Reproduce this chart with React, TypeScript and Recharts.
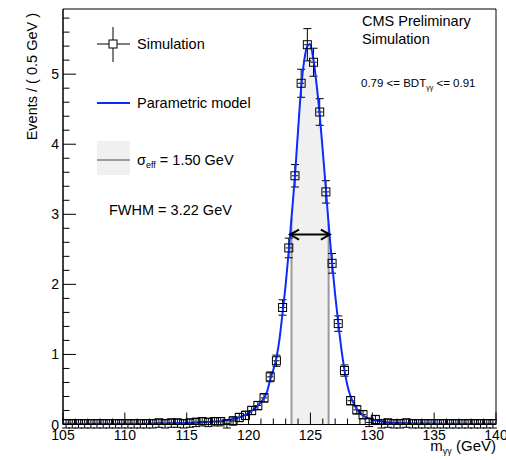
import {
  Area,
  ComposedChart,
  ErrorBar,
  Line,
  ReferenceArea,
  ReferenceLine,
  Scatter,
  XAxis,
  YAxis,
} from 'recharts';

// bin centres (0.5 GeV bins, 105-140 GeV)
const binCenters = [
  105.25, 105.75, 106.25, 106.75, 107.25, 107.75, 108.25, 108.75, 109.25, 109.75,
  110.25, 110.75, 111.25, 111.75, 112.25, 112.75, 113.25, 113.75, 114.25, 114.75,
  115.25, 115.75, 116.25, 116.75, 117.25, 117.75, 118.25, 118.75, 119.25, 119.75,
  120.25, 120.75, 121.25, 121.75, 122.25, 122.75, 123.25, 123.75, 124.25, 124.75,
  125.25, 125.75, 126.25, 126.75, 127.25, 127.75, 128.25, 128.75, 129.25, 129.75,
  130.25, 130.75, 131.25, 131.75, 132.25, 132.75, 133.25, 133.75, 134.25, 134.75,
  135.25, 135.75, 136.25, 136.75, 137.25, 137.75, 138.25, 138.75, 139.25, 139.75,
];

// simulated events per bin
const simValues = [
  0.01, 0.01, 0.01, 0.01, 0.01, 0.01, 0.01, 0.01, 0.01, 0.01,
  0.01, 0.01, 0.01, 0.01, 0.01, 0.02, 0.01, 0.02, 0.02, 0.01,
  0.02, 0.03, 0.04, 0.03, 0.04, 0.04, 0.01, 0.05, 0.1, 0.13,
  0.2, 0.27, 0.38, 0.68, 0.91, 1.67, 2.52, 3.55, 4.87, 5.42,
  5.17, 4.46, 3.32, 2.3, 1.44, 0.77, 0.34, 0.21, 0.14, 0.03,
  0.07, 0.01, 0.02, 0.01, 0.01, 0.02, 0.01, 0.01, 0.01, 0.01,
  0.01, 0.01, 0.01, 0.01, 0.01, 0.01, 0.01, 0.01, 0.01, 0.01,
];

const simErrors = [
  0.06, 0.06, 0.06, 0.06, 0.06, 0.06, 0.06, 0.06, 0.06, 0.06,
  0.06, 0.06, 0.06, 0.06, 0.06, 0.06, 0.06, 0.06, 0.06, 0.06,
  0.06, 0.06, 0.06, 0.06, 0.06, 0.06, 0.06, 0.06, 0.06, 0.06,
  0.06, 0.06, 0.06, 0.07, 0.08, 0.11, 0.14, 0.16, 0.2, 0.23,
  0.2, 0.19, 0.16, 0.14, 0.11, 0.08, 0.06, 0.06, 0.06, 0.06,
  0.06, 0.06, 0.06, 0.06, 0.06, 0.06, 0.06, 0.06, 0.06, 0.06,
  0.06, 0.06, 0.06, 0.06, 0.06, 0.06, 0.06, 0.06, 0.06, 0.06,
];

const binHalfWidth = 0.25;

// parametric model, sampled
const modelX = [
  105, 108, 111, 113, 115, 116, 117, 118, 118.5, 119, 119.5, 120, 120.5, 121, 121.5,
  121.75, 122, 122.25, 122.5, 122.75, 123, 123.25, 123.47, 123.75, 124, 124.25, 124.5,
  124.75, 124.95, 125.25, 125.5, 125.75, 126, 126.25, 126.47, 126.75, 127, 127.25, 127.5,
  127.75, 128, 128.25, 128.5, 128.75, 129, 129.5, 130, 130.5, 131, 132, 134, 137, 140,
];
const modelY = [
  0.01, 0.01, 0.012, 0.015, 0.02, 0.03, 0.04, 0.055, 0.07, 0.09, 0.12, 0.16, 0.23, 0.32, 0.47,
  0.64, 0.78, 0.95, 1.22, 1.6, 2.0, 2.48, 2.95, 3.55, 4.2, 4.8, 5.2,
  5.4, 5.43, 5.2, 4.85, 4.42, 3.9, 3.36, 2.86, 2.3, 1.85, 1.45, 1.08,
  0.78, 0.55, 0.4, 0.3, 0.22, 0.17, 0.1, 0.07, 0.05, 0.035, 0.02, 0.015, 0.01, 0.01,
];

// sigma_eff band and FWHM
const sigmaLo = 123.47;
const sigmaHi = 126.47;
const fwhmLo = 123.35;
const fwhmHi = 126.57;
const halfMax = 2.71;

const xTicks = [
  105, 106, 107, 108, 109, 110, 111, 112, 113, 114, 115, 116, 117, 118, 119, 120,
  121, 122, 123, 124, 125, 126, 127, 128, 129, 130, 131, 132, 133, 134, 135, 136,
  137, 138, 139, 140,
];
const yTicks = [
  0, 0.2, 0.4, 0.6, 0.8, 1, 1.2, 1.4, 1.6, 1.8, 2, 2.2, 2.4, 2.6, 2.8, 3, 3.2, 3.4,
  3.6, 3.8, 4, 4.2, 4.4, 4.6, 4.8, 5, 5.2, 5.4, 5.6, 5.8,
];
const yMax = 5.93;

const FONT = '"Liberation Sans", Arial, Helvetica, sans-serif';
const BLUE = '#0a2cff';

const simData = binCenters.map((x, i) => ({ x, y: simValues[i], err: simErrors[i], xerr: binHalfWidth }));
const modelData = modelX.map((x, i) => ({ x, y: modelY[i] }));
const bandData = modelData.filter((d) => d.x >= sigmaLo && d.x <= sigmaHi);
const yAt = (x: number) => modelData.find((d) => d.x === x)?.y ?? 0;

const XTick = (props: any) => {
  const { x, y, payload } = props;
  const major = payload.value % 5 === 0;
  return (
    <g>
      <line x1={x} x2={x} y1={y} y2={y - (major ? 12 : 6)} stroke="#000" />
      {major && (
        <text x={x} y={y + 15} textAnchor="middle" fontSize={14} fontFamily={FONT} fill="#000">
          {payload.value}
        </text>
      )}
    </g>
  );
};

const YTick = (props: any) => {
  const { x, y, payload } = props;
  const major = Math.abs(payload.value - Math.round(payload.value)) < 1e-6;
  return (
    <g>
      <line x1={x} x2={x + (major ? 13 : 6.5)} y1={y} y2={y} stroke="#000" />
      {major && (
        <text x={x - 4} y={y} textAnchor="end" dominantBaseline="central" fontSize={14} fontFamily={FONT} fill="#000">
          {payload.value}
        </text>
      )}
    </g>
  );
};

const OpenSquare = (props: any) => {
  const { cx, cy } = props;
  return <rect x={cx - 4} y={cy - 4} width={8} height={8} fill="none" stroke="#000" strokeWidth={1} />;
};

const Arrow = (props: any) => {
  const { x1, y1, x2, y2 } = props;
  return (
    <g stroke="#000" strokeWidth={2} fill="none">
      <line x1={x1} y1={y1} x2={x2} y2={y2} />
      <polyline points={`${x1 + 9},${y1 - 5} ${x1},${y1} ${x1 + 9},${y1 + 5}`} />
      <polyline points={`${x2 - 9},${y2 - 5} ${x2},${y2} ${x2 - 9},${y2 + 5}`} />
    </g>
  );
};

export default function App() {
  return (
    <div style={{ position: 'absolute', left: 0, top: 0, width: 506, height: 460, background: '#fff' }}>
      <ComposedChart width={506} height={460} margin={{ top: 9, right: 10, bottom: 0, left: 0 }}>
        <XAxis
          type="number"
          dataKey="x"
          domain={[105, 140]}
          ticks={xTicks}
          interval={0}
          allowDataOverflow
          height={35.5}
          tickSize={0}
          tickMargin={0}
          tick={<XTick />}
          axisLine={{ stroke: '#000' }}
        />
        <YAxis
          type="number"
          dataKey="y"
          domain={[0, yMax]}
          ticks={yTicks}
          interval={0}
          allowDataOverflow
          width={63}
          tickSize={0}
          tickMargin={0}
          tick={<YTick />}
          axisLine={{ stroke: '#000' }}
        />
        <Area
          data={bandData}
          dataKey="y"
          type="monotone"
          fill="#f0f0f0"
          fillOpacity={1}
          stroke="none"
          isAnimationActive={false}
        />
        <ReferenceLine segment={[{ x: sigmaLo, y: 0 }, { x: sigmaLo, y: yAt(sigmaLo) }]} stroke="#9a9a9a" strokeWidth={2} />
        <ReferenceLine segment={[{ x: sigmaHi, y: 0 }, { x: sigmaHi, y: yAt(sigmaHi) }]} stroke="#9a9a9a" strokeWidth={2} />
        <Scatter data={simData} shape={<OpenSquare />} isAnimationActive={false}>
          <ErrorBar dataKey="err" direction="y" width={4} stroke="#000" strokeWidth={1} />
          <ErrorBar dataKey="xerr" direction="x" width={0} stroke="#000" strokeWidth={1} />
        </Scatter>
        <Line
          data={modelData}
          dataKey="y"
          type="monotone"
          stroke={BLUE}
          strokeWidth={2}
          dot={false}
          isAnimationActive={false}
        />
        <ReferenceLine segment={[{ x: fwhmLo, y: halfMax }, { x: fwhmHi, y: halfMax }]} shape={<Arrow />} />
        <ReferenceArea x1={105} x2={140} y1={0} y2={yMax} fill="none" stroke="#000" strokeWidth={1} />
      </ComposedChart>
      <svg
        width={506}
        height={460}
        style={{ position: 'absolute', left: 0, top: 0, pointerEvents: 'none' }}
        fontFamily={FONT}
      >
        {/* legend */}
        <line x1={97} y1={44} x2={130} y2={44} stroke="#000" />
        <line x1={113} y1={27} x2={113} y2={62} stroke="#000" />
        <rect x={109} y={40} width={8} height={8} fill="#fff" stroke="#000" />
        <text x={137} y={44} fontSize={14.5} dominantBaseline="central">Simulation</text>
        <line x1={97} y1={103} x2={130} y2={103} stroke={BLUE} strokeWidth={2} />
        <text x={137} y={103} fontSize={14.5} dominantBaseline="central">Parametric model</text>
        <rect x={97} y={141} width={33} height={34} fill="#f0f0f0" />
        <line x1={97} y1={160} x2={130} y2={160} stroke="#9a9a9a" strokeWidth={2} />
        <text x={137} y={160} fontSize={14.5} dominantBaseline="central">
          σ<tspan fontSize={9} dy={5}>eff</tspan>
          <tspan dy={-5}> = 1.50 GeV</tspan>
        </text>
        <text x={109} y={210} fontSize={14.5} dominantBaseline="central">FWHM = 3.22 GeV</text>
        {/* top right */}
        <text x={362} y={21} fontSize={14.5} dominantBaseline="central">CMS Preliminary</text>
        <text x={362} y={39} fontSize={14.5} dominantBaseline="central">Simulation</text>
        <text x={361} y={83} fontSize={11.5} dominantBaseline="central">
          0.79 &lt;= BDT<tspan fontSize={7} dy={4}>γγ</tspan>
          <tspan dy={-4}> &lt;= 0.91</tspan>
        </text>
        {/* axis titles */}
        <text x={496} y={451} fontSize={15} textAnchor="end">
          m<tspan fontSize={9} dy={3}>γγ</tspan>
          <tspan dy={-3}> (GeV)</tspan>
        </text>
        <text transform="translate(37,13) rotate(-90)" fontSize={14.5} textAnchor="end">
          Events / ( 0.5 GeV )
        </text>
      </svg>
    </div>
  );
}
